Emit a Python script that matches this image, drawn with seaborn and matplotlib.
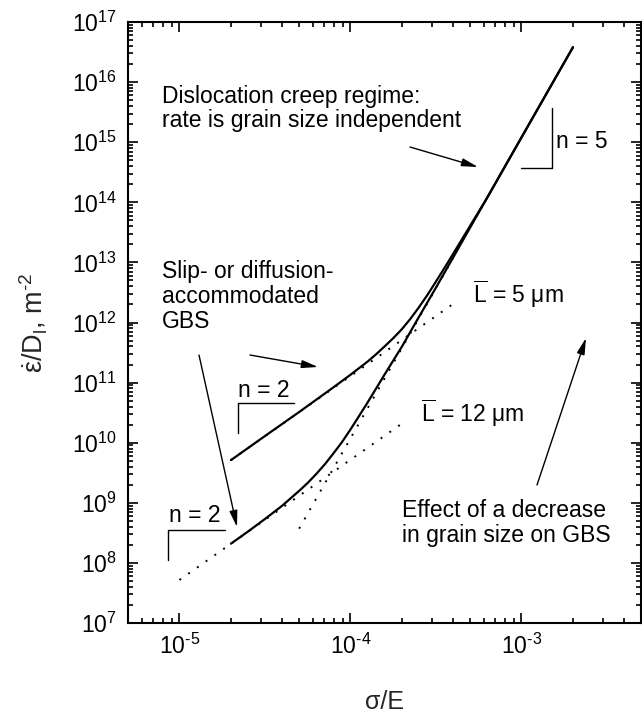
import numpy as np
import matplotlib
matplotlib.use('Agg')
import matplotlib.pyplot as plt
import matplotlib.ticker as mticker
import seaborn as sns

# ==========================================
# DATA
# ==========================================
# solid curves: GBS + dislocation creep, two grain sizes
stress_5um = [2.00e-5, 3.16e-5, 5.01e-5, 7.94e-5, 1.00e-4, 1.26e-4, 1.41e-4, 1.58e-4,
              1.78e-4, 2.00e-4, 2.24e-4, 2.51e-4, 2.82e-4, 3.16e-4, 3.55e-4, 3.98e-4,
              5.01e-4, 6.31e-4, 1.00e-3, 2.00e-3]
rate_5um = [5.13e9, 1.29e10, 3.24e10, 8.32e10, 1.35e11, 2.24e11, 2.95e11, 3.98e11,
            5.50e11, 7.76e11, 1.15e12, 1.78e12, 2.88e12, 4.79e12, 8.13e12, 1.38e13,
            4.07e13, 1.20e14, 1.20e15, 3.80e16]

stress_12um = [2.00e-5, 2.51e-5, 3.16e-5, 3.98e-5, 5.01e-5, 5.62e-5, 6.31e-5, 7.08e-5,
               7.94e-5, 8.91e-5, 1.00e-4, 1.12e-4, 1.26e-4, 1.58e-4, 2.00e-4, 2.51e-4,
               3.16e-4, 3.98e-4, 5.01e-4, 6.31e-4, 1.00e-3, 2.00e-3]
rate_12um = [2.09e8, 3.31e8, 5.37e8, 8.91e8, 1.58e9, 2.14e9, 3.02e9, 4.37e9,
             6.61e9, 1.02e10, 1.66e10, 2.75e10, 4.68e10, 1.35e11, 3.98e11, 1.23e12,
             3.80e12, 1.20e13, 3.80e13, 1.20e14, 1.20e15, 3.80e16]

# dotted asymptotes
gbs5_stress = [2.00e-5, 4.25e-4]
gbs5_rate = [5.13e9, 2.32e12]
gbs12_stress = [1.00e-5, 2.12e-4]
gbs12_rate = [5.20e7, 2.34e10]
disl_stress = [5.01e-5, 3.98e-4]
disl_rate = [3.72e8, 1.18e13]

# ==========================================
# STYLE
# ==========================================
sns.set_theme(style='ticks')
plt.rcParams['font.family'] = ['Liberation Sans', 'DejaVu Sans']
plt.rcParams['mathtext.fontset'] = 'custom'
plt.rcParams['mathtext.rm'] = 'Liberation Sans'
plt.rcParams['mathtext.it'] = 'Liberation Sans'
plt.rcParams['mathtext.default'] = 'regular'
plt.rcParams['axes.edgecolor'] = 'black'
plt.rcParams['xtick.color'] = 'black'
plt.rcParams['ytick.color'] = 'black'

fs = 16.5
fig = plt.figure(figsize=(6.42, 7.13), dpi=100)
ax = fig.add_axes([128 / 642, 90 / 713, 513 / 642, 601 / 713])

# ==========================================
# CURVES
# ==========================================
dot = (0, (1, 4.5))
sns.lineplot(x=gbs12_stress, y=gbs12_rate, ax=ax, color='black', lw=1.4,
             linestyle=dot, errorbar=None)
sns.lineplot(x=gbs5_stress, y=gbs5_rate, ax=ax, color='black', lw=1.4,
             linestyle=dot, errorbar=None)
sns.lineplot(x=disl_stress, y=disl_rate, ax=ax, color='black', lw=1.4,
             linestyle=dot, errorbar=None)
sns.lineplot(x=stress_5um, y=rate_5um, ax=ax, color='black', lw=1.6, errorbar=None)
sns.lineplot(x=stress_12um, y=rate_12um, ax=ax, color='black', lw=1.6, errorbar=None)

ax.set_xscale('log')
ax.set_yscale('log')
ax.set_xlim(5e-6, 5e-3)
ax.set_ylim(1e7, 1e17)


def pow10(v, pos):
    e = int(round(np.log10(v)))
    return r'$\mathdefault{10^{%s}}$' % str(e).replace('-', '‐')


ax.xaxis.set_major_locator(mticker.LogLocator(base=10, numticks=20))
ax.yaxis.set_major_locator(mticker.LogLocator(base=10, numticks=20))
ax.xaxis.set_major_formatter(mticker.FuncFormatter(pow10))
ax.yaxis.set_major_formatter(mticker.FuncFormatter(pow10))
ax.xaxis.set_minor_locator(mticker.LogLocator(base=10, subs=np.arange(2, 10), numticks=100))
ax.yaxis.set_minor_locator(mticker.LogLocator(base=10, subs=np.arange(2, 10), numticks=100))
ax.xaxis.set_minor_formatter(mticker.NullFormatter())
ax.yaxis.set_minor_formatter(mticker.NullFormatter())

ax.tick_params(which='both', direction='in', top=True, right=True, width=1.2)
ax.tick_params(which='major', length=7, labelsize=fs, pad=8)
ax.tick_params(which='minor', length=3.5)
for sp in ax.spines.values():
    sp.set_linewidth(1.5)
    sp.set_color('black')

ax.set_xlabel('σ/E', fontsize=fs + 1.5, labelpad=22)
ax.set_ylabel(r'$\dot{ε}/D_l$, m$^{‐2}$', fontsize=fs + 3, labelpad=16)

# ==========================================
# ANNOTATIONS (axes fraction)
# ==========================================
tk = dict(transform=ax.transAxes, fontsize=fs, color='black', va='baseline', ha='left')
# multi-line texts: y is the baseline of the last line
ax.text(0.066, 0.825, 'Dislocation creep regime:\nrate is grain size independent',
        linespacing=1.05, **tk)
ax.text(0.066, 0.491, 'Slip- or diffusion-\naccommodated\nGBS', linespacing=1.1, **tk)
ax.text(0.6725, 0.532, r'$\overline{\mathrm{L}}$ = 5 μm', **tk)
ax.text(0.5712, 0.334, r'$\overline{\mathrm{L}}$ = 12 μm', **tk)
ax.text(0.534, 0.135, 'Effect of a decrease\nin grain size on GBS', linespacing=1.1, **tk)
ax.text(0.2144, 0.376, 'n = 2', **tk)
ax.text(0.0799, 0.168, 'n = 2', **tk)
ax.text(0.8343, 0.790, 'n = 5', **tk)

# slope brackets
bk = dict(transform=ax.transAxes, color='black', lw=1.0)
ax.plot([0.2144, 0.2144, 0.3236], [0.3161, 0.3661, 0.3661], **bk)
ax.plot([0.0780, 0.0780, 0.1891], [0.1048, 0.1547, 0.1547], **bk)
ax.plot([0.8265, 0.8265, 0.7661], [0.8569, 0.7571, 0.7571], **bk)

arrow = dict(arrowstyle='-|>,head_length=0.7,head_width=0.17', color='black',
             lw=1.0, shrinkA=0, shrinkB=0, mutation_scale=14)
ax.annotate('', xy=(0.6823, 0.7587), xytext=(0.5497, 0.7920),
            xycoords='axes fraction', arrowprops=arrow)
ax.annotate('', xy=(0.3704, 0.4260), xytext=(0.2378, 0.4459),
            xycoords='axes fraction', arrowprops=arrow)
ax.annotate('', xy=(0.2125, 0.1597), xytext=(0.1384, 0.4459),
            xycoords='axes fraction', arrowprops=arrow)
ax.annotate('', xy=(0.8928, 0.4742), xytext=(0.7973, 0.2296),
            xycoords='axes fraction', arrowprops=arrow)

fig.savefig('out.png', dpi=100)
